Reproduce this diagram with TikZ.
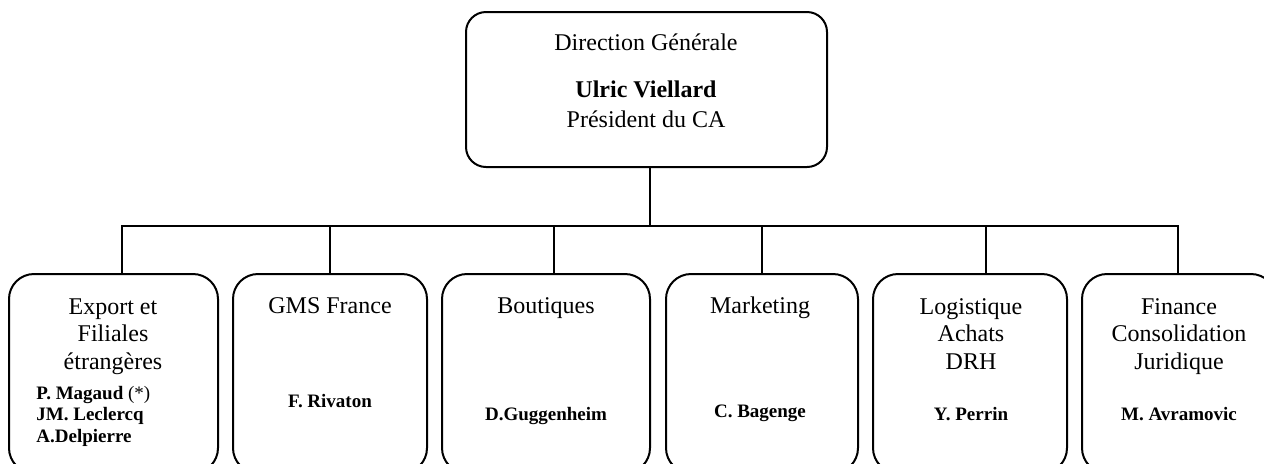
\documentclass[tikz,border=0pt]{standalone}
\usepackage{fontspec}
\setmainfont{Liberation Serif}
\begin{document}
\begin{tikzpicture}[x=0.5pt,y=-0.5pt,
  unitbox/.style={draw, line width=1pt, rounded corners=12.5pt, inner sep=0pt,
    minimum height=99.5pt, minimum width=#1},
  topbox/.style={draw, line width=1pt, rounded corners=10pt, inner sep=0pt,
    minimum height=77.5pt, minimum width=180.5pt},
  conn/.style={draw, line width=1pt},
  title/.style={inner sep=0pt, anchor=base, align=center,
    font=\fontsize{12pt}{13.75pt}\selectfont},
  person/.style={inner sep=0pt, anchor=base, align=center,
    font=\fontsize{9.5pt}{10.75pt}\selectfont\bfseries}]
\useasboundingbox (0,0) rectangle (1264,463);

% top box
\node[topbox] (top) at (646.5,89.5) {};
\node[title] (toptitle) at (646,50) {Direction Générale};
\node[title, font=\fontsize{12pt}{15pt}\selectfont] (topname) at (646,127)
  {\textbf{Ulric Viellard}\\Président du CA};

% unit boxes
\node[unitbox=104.5pt] (b1) at (113.5,373.5) {};
\node[unitbox=97pt]    (b2) at (330,373.5) {};
\node[unitbox=104pt]   (b3) at (546,373.5) {};
\node[unitbox=96pt]    (b4) at (762,373.5) {};
\node[unitbox=97pt]    (b5) at (970,373.5) {};
\node[unitbox=97pt]    (b6) at (1179,373.5) {};

% titles (multi-line nodes: base = last line)
\node[title] (t1) at (113,369) {Export et\\Filiales\\étrangères};
\node[title] (t2) at (330,313) {GMS France};
\node[title] (t3) at (546,313) {Boutiques};
\node[title] (t4) at (760,313) {Marketing};
\node[title] (t5) at (971,369) {Logistique\\Achats\\DRH};
\node[title] (t6) at (1179,369) {Finance\\Consolidation\\Juridique};

% people
\node[person, anchor=base west, align=left] (p1) at (36,442)
  {P. Magaud \mdseries(*)\\JM. Leclercq\\A.Delpierre};
\node[person] (p2) at (330,407) {F. Rivaton};
\node[person] (p3) at (546,420) {D.Guggenheim};
\node[person] (p4) at (760,417) {C. Bagenge};
\node[person] (p5) at (971,420) {Y. Perrin};
\node[person] (p6) at (1179,420) {M. Avramovic};

% connectors
\coordinate (j) at (650,226);
\coordinate (d1) at (122,274);
\coordinate (d2) at (330,274);
\coordinate (d3) at (554,274);
\coordinate (d4) at (762,274);
\coordinate (d5) at (986,274);
\coordinate (d6) at (1178,274);
\draw[conn] (top.south -| j) -- (j);
\foreach \d in {d1,d2,d3,d4,d5,d6}
  \draw[conn] (j) -| (\d);
\end{tikzpicture}
\end{document}
